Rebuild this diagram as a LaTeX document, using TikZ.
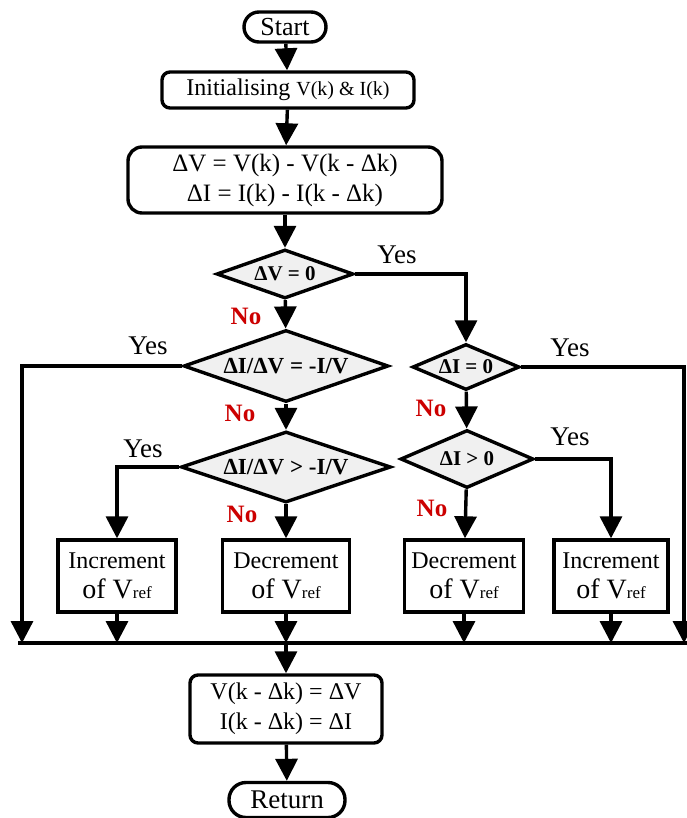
\documentclass[tikz,border=0pt]{standalone}
\usepackage{fontspec}
\setmainfont{Liberation Serif}
\usetikzlibrary{shapes.geometric,arrows.meta}
\begin{document}
\begin{tikzpicture}[x=1pt,y=-1pt,
  line width=3.4pt,
  arr/.style={-{Triangle[width=22pt,length=22pt]}},
  term/.style={draw,rounded corners=15pt,minimum height=30pt,inner sep=0pt,
    font=\fontsize{26}{28}\selectfont},
  proc/.style={draw,rounded corners=8pt,align=center,inner sep=0pt},
  dec/.style={draw,diamond,fill=gray!12,inner sep=0pt},
  act/.style={draw,minimum height=72pt,align=center,inner sep=0pt,
    font=\fontsize{24}{30}\selectfont},
  no/.style={text=red!80!black,font=\bfseries\fontsize{25}{27}\selectfont},
  yes/.style={font=\fontsize{27}{29}\selectfont}]
\useasboundingbox (0,0) rectangle (686,818);

% terminal and process blocks of the main column
\node[term,minimum width=82pt] (start) at (285,27) {Start};
\node[proc,minimum width=252pt,minimum height=36pt] (init) at (288,90)
  {\fontsize{24}{26}\selectfont Initialising {\fontsize{20}{22}\selectfont V(k) \& I(k)}};
\node[proc,minimum width=314pt,minimum height=66pt,rounded corners=14pt,
  font=\fontsize{25}{30}\selectfont] (diff) at (285,180)
  {ΔV = V(k) - V(k - Δk)\\ ΔI = I(k) - I(k - Δk)};

% decisions
\node[dec,aspect=2.8,minimum width=137pt,minimum height=49pt,font=\bfseries\fontsize{21}{23}\selectfont] (dv0) at (285,274) {ΔV = 0};
\node[dec,aspect=2.85,minimum width=205pt,minimum height=72pt,font=\bfseries\fontsize{23}{25}\selectfont] (eq) at (286,366) {ΔI/ΔV = -I/V};
\node[dec,aspect=2.95,minimum width=210pt,minimum height=71pt,font=\bfseries\fontsize{23}{25}\selectfont] (gt) at (286,467) {ΔI/ΔV > -I/V};
\node[dec,aspect=2.3,minimum width=107pt,minimum height=46pt,font=\bfseries\fontsize{21}{23}\selectfont] (di0) at (466,367) {ΔI = 0};
\node[dec,aspect=2.3,minimum width=133pt,minimum height=58pt,font=\bfseries\fontsize{21}{23}\selectfont] (dig) at (467,459) {ΔI > 0};

% reference voltage actions
\newcommand{\vref}{{\fontsize{28}{30}\selectfont of V}{\fontsize{17}{19}\selectfont ref}}
\node[act,minimum width=118pt] (inc1) at (117,576) {Increment\\ \vref};
\node[act,minimum width=127pt] (dec1) at (286,576) {Decrement\\ \vref};
\node[act,minimum width=119pt] (dec2) at (464,576) {Decrement\\ \vref};
\node[act,minimum width=114pt] (inc2) at (611,576) {Increment\\ \vref};

% update and return
\node[proc,minimum width=192pt,minimum height=68pt,font=\fontsize{24}{30}\selectfont] (upd) at (286,709)
  {V(k - Δk) = ΔV\\ I(k - Δk) = ΔI};
\node[term,minimum width=116pt,minimum height=35pt,rounded corners=17pt,
  font=\fontsize{27}{29}\selectfont] (ret) at (287,800) {Return};

% collecting bus
\coordinate (busL) at (18,643);
\coordinate (busR) at (692,643);
\draw (busL) -- (busR);
\coordinate (yl) at (22,366);
\coordinate (yr) at (684,367);
\coordinate (yb) at (684,643);
\coordinate (yt) at (466,274);
\coordinate (yg) at (117,467);
\coordinate (yh) at (611,459);

% connectors
\draw[arr] (start) -- (init);
\draw[arr] (init) -- (diff);
\draw[arr] (diff) -- (dv0);
\draw[arr] (dv0) -- (eq);
\draw[arr] (eq) -- (gt);
\draw[arr] (gt) -- (dec1);
\draw[arr] (dv0.east) -- (yt) -- (di0.north);
\draw[arr] (di0) -- (dig);
\draw[arr] (dig) -- (dec2);
\draw[arr] (eq.west) -- (yl) -- (yl |- busL);
\draw[arr] (gt.west) -- (yg) -- (inc1.north);
\draw[arr] (dig.east) -- (yh) -- (inc2.north);
\draw[arr] (di0.east) -- (yr) -- (yb);
\draw[arr] (inc1.south) -- (inc1.south |- busL);
\draw[arr] (dec1.south) -- (dec1.south |- busL);
\draw[arr] (dec2.south) -- (dec2.south |- busL);
\draw[arr] (inc2.south) -- (inc2.south |- busL);
\draw[arr] (dec1.south |- busL) -- (upd.north);
\draw[arr] (upd) -- (ret);

% branch labels
\node[yes] (l1) at (397,255) {Yes};
\node[no]  (l2) at (246,316) {No};
\node[yes] (l3) at (148,346) {Yes};
\node[no]  (l4) at (240,413) {No};
\node[yes] (l5) at (143,449) {Yes};
\node[no]  (l6) at (242,514) {No};
\node[yes] (l7) at (570,348) {Yes};
\node[no]  (l8) at (431,408) {No};
\node[yes] (l9) at (570,437) {Yes};
\node[no]  (l10) at (432,508) {No};
\end{tikzpicture}
\end{document}
